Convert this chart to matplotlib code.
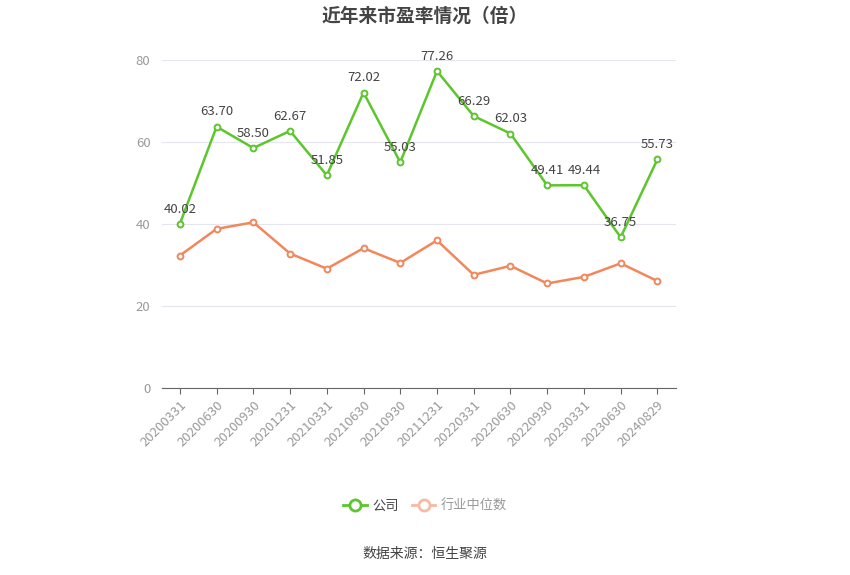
import matplotlib
matplotlib.use('Agg')
import matplotlib.pyplot as plt
from matplotlib.lines import Line2D

plt.rcParams['font.family'] = ['Noto Sans CJK SC', 'DejaVu Sans']

dates = ['20200331', '20200630', '20200930', '20201231', '20210331', '20210630', '20210930',
         '20211231', '20220331', '20220630', '20220930', '20230331', '20230630', '20240829']
company = [40.02, 63.70, 58.50, 62.67, 51.85, 72.02, 55.03,
           77.26, 66.29, 62.03, 49.41, 49.44, 36.75, 55.73]
industry = [32.3, 38.8, 40.4, 32.8, 29.1, 34.1, 30.5,
            36.0, 27.6, 29.8, 25.5, 27.1, 30.4, 26.1]

green = '#5cc62c'
orange = '#f2875c'

fig = plt.figure(figsize=(8.5, 5.75), dpi=100)
ax = fig.add_axes([0.190, 0.325, 0.605, 0.571])

x = list(range(len(dates)))
ax.plot(x, company, color=green, lw=1.8, marker='o', ms=4.2, mfc='white', mec=green, mew=1.4, zorder=3)
ax.plot(x, industry, color=orange, lw=1.8, marker='o', ms=4.2, mfc='white', mec=orange, mew=1.4, zorder=3)

for i, v in enumerate(company):
    ax.annotate(f'{v:.2f}', (i, v), xytext=(0, 6), textcoords='offset points',
                ha='center', va='bottom', fontsize=9.5, color='#444444', zorder=4)

ax.set_xlim(-0.5, len(dates) - 0.5)
ax.set_ylim(0, 80)
ax.set_yticks([0, 20, 40, 60, 80])
ax.grid(axis='y', color='#e3e6ee', lw=0.8)
ax.set_axisbelow(True)
for s in ['top', 'right', 'left']:
    ax.spines[s].set_visible(False)
ax.spines['bottom'].set_color('#666666')
ax.tick_params(axis='y', length=0, colors='#999999', labelsize=9.5, pad=8)
ax.tick_params(axis='x', length=4, color='#666666', colors='#999999', labelsize=9.5)
ax.set_xticks(x)
ax.set_xticklabels(dates, rotation=45, ha='right', rotation_mode='anchor')

fig.text(0.5, 0.972, '近年来市盈率情况（倍）', ha='center', va='center',
         fontsize=13.5, fontweight='bold', color='#444444')

handles = [Line2D([0], [0], color=green, lw=2, marker='o', ms=8, mfc='white', mec=green, mew=2),
           Line2D([0], [0], color='#f7bba3', lw=2, marker='o', ms=8, mfc='white', mec='#f7bba3', mew=2)]
leg = fig.legend(handles, ['公司', '行业中位数'], loc='center', bbox_to_anchor=(0.5, 0.12),
                 ncol=2, frameon=False, fontsize=9.5, handlelength=1.8, columnspacing=1.0,
                 handletextpad=0.4)
leg.get_texts()[0].set_color('#444444')
leg.get_texts()[1].set_color('#999999')

fig.text(0.5, 0.036, '数据来源：恒生聚源', ha='center', va='center', fontsize=10, color='#444444')

fig.savefig('out.png', dpi=100)
